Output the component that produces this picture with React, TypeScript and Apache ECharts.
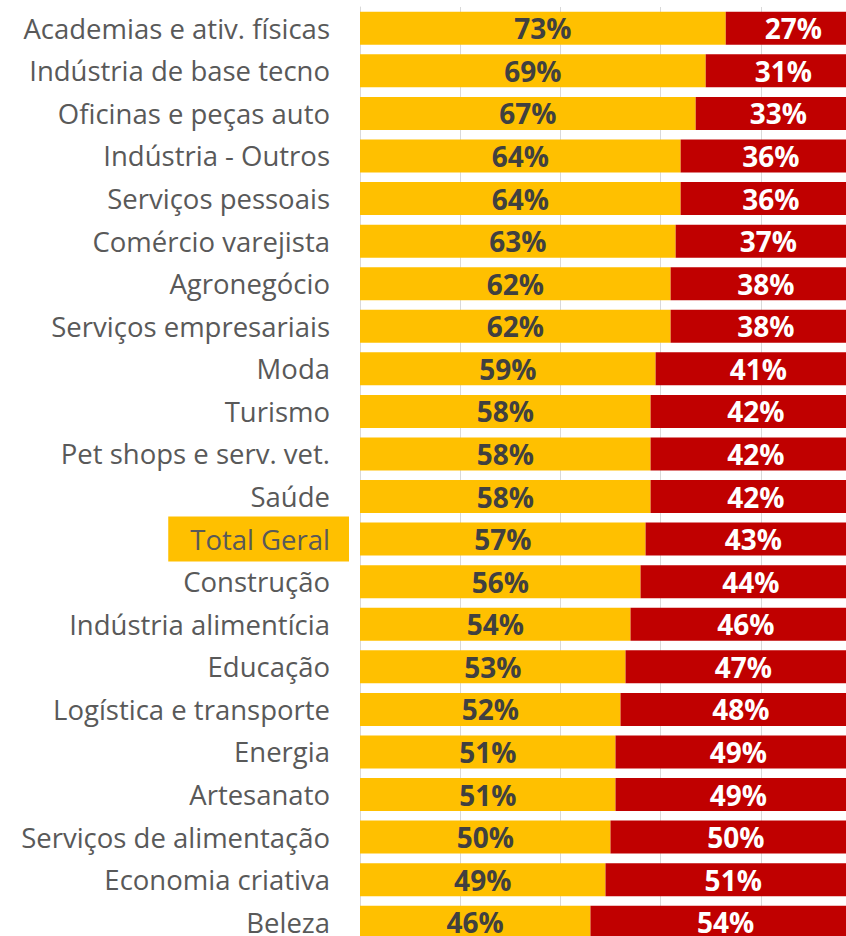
import React, { useEffect, useRef } from 'react';
import * as echarts from 'echarts';

const categories = [
  'Academias e ativ. físicas',
  'Indústria de base tecno',
  'Oficinas e peças auto',
  'Indústria - Outros',
  'Serviços pessoais',
  'Comércio varejista',
  'Agronegócio',
  'Serviços empresariais',
  'Moda',
  'Turismo',
  'Pet shops e serv. vet.',
  'Saúde',
  'Total Geral',
  'Construção',
  'Indústria alimentícia',
  'Educação',
  'Logística e transporte',
  'Energia',
  'Artesanato',
  'Serviços de alimentação',
  'Economia criativa',
  'Beleza',
];

const yellowValues = [73, 69, 67, 64, 64, 63, 62, 62, 59, 58, 58, 58, 57, 56, 54, 53, 52, 51, 51, 50, 49, 46];
const redValues = [27, 31, 33, 36, 36, 37, 38, 38, 41, 42, 42, 42, 43, 44, 46, 47, 48, 49, 49, 50, 51, 54];

const highlightCategory = 'Total Geral';

const FONT = '"Open Sans", "Noto Sans", sans-serif';
const CAT_SIZE = 27.5;

export default function App() {
  const ref = useRef<HTMLDivElement>(null);

  useEffect(() => {
    if (!ref.current) return;
    const chart = echarts.init(ref.current, null, { renderer: 'svg' });
    chart.setOption({
      animation: false,
      grid: { left: 360, top: 7, width: 501, height: 936.5, containLabel: false },
      xAxis: {
        type: 'value',
        min: 0,
        max: 100,
        interval: 20,
        axisLabel: { show: false },
        axisLine: { show: false },
        axisTick: { show: false },
        splitLine: { show: true, lineStyle: { color: '#d9d9d9', width: 1 } },
      },
      yAxis: {
        type: 'category',
        inverse: true,
        data: categories,
        axisTick: { show: false },
        axisLine: { show: true, lineStyle: { color: '#d9d9d9', width: 1 } },
        axisLabel: {
          margin: 11,
          fontFamily: FONT,
          fontSize: CAT_SIZE,
          color: '#595959',
          formatter: (v: string) => (v === highlightCategory ? `{hl|${v}}` : `{n|${v}}`),
          rich: {
            n: {
              fontFamily: FONT,
              fontSize: CAT_SIZE,
              color: '#595959',
              padding: [0, 19, 0, 0],
            },
            hl: {
              fontFamily: FONT,
              fontSize: CAT_SIZE,
              color: '#595959',
              backgroundColor: '#FFC000',
              height: 45,
              lineHeight: 45,
              padding: [0, 19, 0, 22],
            },
          },
        },
      },
      series: [
        {
          type: 'bar',
          stack: 'total',
          data: yellowValues,
          barWidth: 33,
          itemStyle: { color: '#FFC000' },
          label: {
            show: true,
            position: 'inside',
            formatter: '{c}%',
            fontFamily: FONT,
            fontSize: 28,
            fontWeight: 'bold',
            color: '#404040',
          },
        },
        {
          type: 'bar',
          stack: 'total',
          data: redValues,
          barWidth: 33,
          itemStyle: { color: '#C00000' },
          label: {
            show: true,
            position: 'inside',
            formatter: '{c}%',
            fontFamily: FONT,
            fontSize: 28,
            fontWeight: 'bold',
            color: '#ffffff',
          },
        },
      ],
    });
    return () => chart.dispose();
  }, []);

  return (
    <div
      style={{
        position: 'fixed',
        left: 0,
        top: 0,
        width: 846,
        height: 936,
        overflow: 'hidden',
        background: '#ffffff',
      }}
    >
      <div ref={ref} style={{ width: 880, height: 960 }} />
    </div>
  );
}
